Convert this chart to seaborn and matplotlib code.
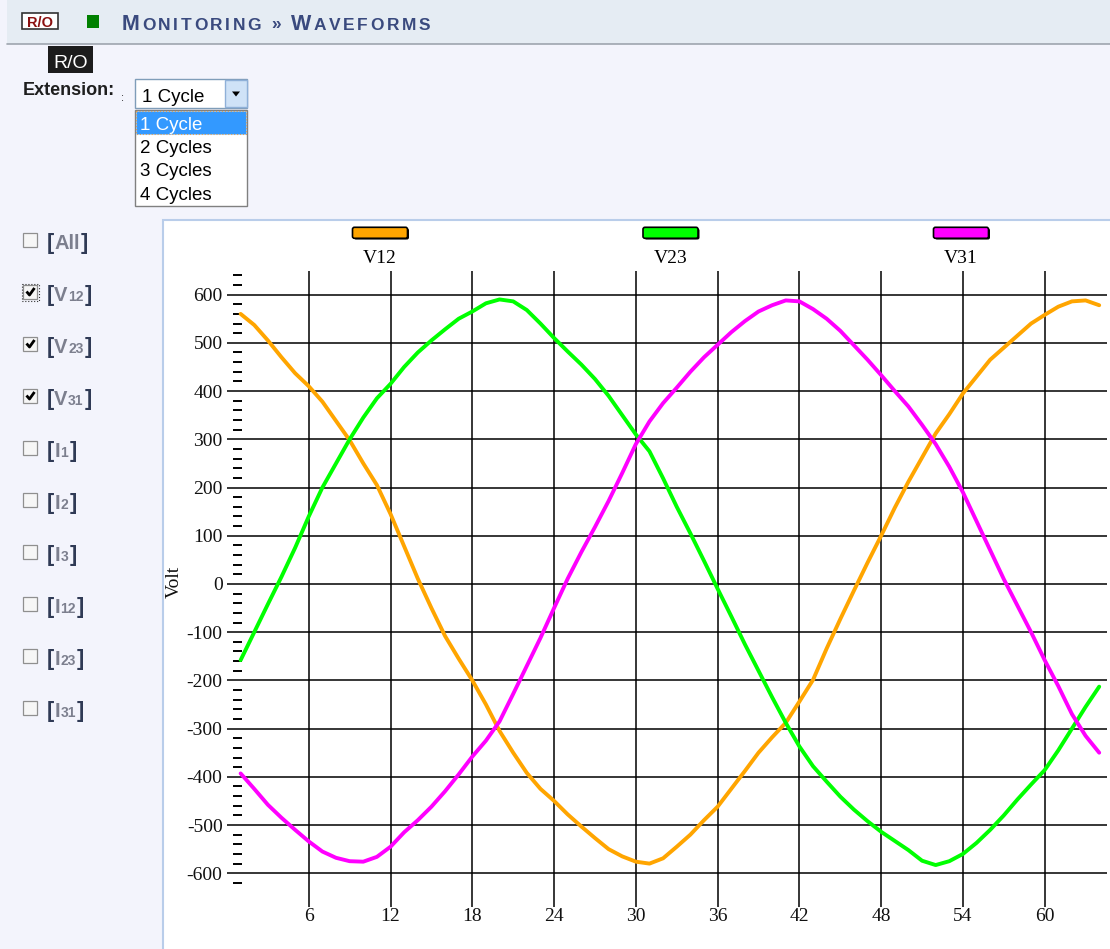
import numpy as np
import pandas as pd
import matplotlib
matplotlib.use("Agg")
import matplotlib.pyplot as plt
import seaborn as sns
from matplotlib import transforms as mtransforms
from matplotlib.patches import Rectangle, FancyBboxPatch, Polygon
from matplotlib.lines import Line2D
from matplotlib.ticker import FixedLocator

# ---------------- data ----------------
samples = list(range(1, 65))
v12 = [560, 537, 505, 470, 437, 410, 378, 338, 298, 250, 205, 145, 78, 11, -50, -108,
       -155, -200, -250, -305, -350, -392, -425, -450, -478, -503, -527, -550, -565, -576,
       -580, -569, -545, -520, -490, -462, -425, -388, -350, -318, -288, -244, -199, -134,
       -73, -14, 44, 100, 158, 212, 262, 312, 352, 395, 430, 465, 490, 515, 540, 558,
       575, 586, 588, 578]
v23 = [-158, -100, -42, 15, 75, 140, 200, 250, 300, 345, 385, 415, 450, 480, 505, 528,
       550, 565, 582, 590, 586, 568, 540, 510, 482, 455, 425, 390, 350, 310,
       275, 219, 160, 105, 48, -10, -67, -125, -180, -235, -288, -337, -378, -410,
       -441, -468, -492, -514, -533, -552, -574, -583, -575, -560, -537, -510, -480, -447,
       -416, -386, -345, -300, -255, -213]
v31 = [-393, -425, -458, -485, -510, -534, -555, -568, -575, -576, -566, -545, -515, -490,
       -462, -430, -395, -358, -325, -285, -228, -170, -112, -50, 11, 66, 118, 172, 230, 290,
       337, 375, 407, 440, 470, 496, 522, 545, 565, 578, 588, 586, 570, 550, 525, 495,
       465, 433, 400, 368, 330, 290, 243, 190, 130, 70, 10, -45, -100, -158, -212, -270,
       -315, -350]
series_names = ["V12", "V23", "V31"]
series_colors = ["#FFA500", "#00FF00", "#FF00FF"]
x_ticks = [6, 12, 18, 24, 30, 36, 42, 48, 54, 60]
y_ticks = list(range(-600, 601, 100))
y_minor = [v for v in range(-620, 641, 20) if v % 100 != 0]
y_label = "Volt"

check_names = [("All", ""), ("V", "12"), ("V", "23"), ("V", "31"), ("I", "1"),
               ("I", "2"), ("I", "3"), ("I", "12"), ("I", "23"), ("I", "31")]
check_state = [False, True, True, True, False, False, False, False, False, False]
dropdown_options = ["1 Cycle", "2 Cycles", "3 Cycles", "4 Cycles"]
selected_option = "1 Cycle"
title_parts = [("M", True), ("ONITORING", False), (" » ", False), ("W", True), ("AVEFORMS", False)]

# ---------------- figure ----------------
W, H = 1110, 949
sns.set_style("white")
plt.rcParams["axes.unicode_minus"] = False
fig = plt.figure(figsize=(W / 100, H / 100), dpi=100)
fig.patch.set_facecolor("#F3F4FC")
px = mtransforms.Affine2D().scale(1 / W, -1 / H).translate(0, 1) + fig.transFigure
renderer = fig.canvas.get_renderer()
SANS = "Liberation Sans"
SERIF = "Liberation Serif"


def rect(x, y, w, h, **kw):
    kw.setdefault("zorder", 2)
    p = Rectangle((x, y), w, h, transform=px, **kw)
    fig.add_artist(p)
    return p


def put(x, y, s, size, color="black", weight="normal", family=SANS, spacing=None, dy=0.0, zorder=5):
    chunks = list(s) if spacing is not None else [s]
    sp = spacing or 0.0
    for ch in chunks:
        if ch == " ":
            x += size * 0.278 * 100 / 72 + sp
            continue
        t = fig.text(x, y + dy, ch, transform=px, fontsize=size, color=color,
                     fontweight=weight, family=family, va="baseline", ha="left", zorder=zorder)
        bb = t.get_window_extent(renderer)
        x += bb.width + sp
    return x


# header
rect(7, 0, W, 44, facecolor="#E5ECF3", edgecolor="none", zorder=-2)
fig.add_artist(Line2D([7, W], [44.5, 44.5], transform=px, color="#9EA5AE", lw=1.2, zorder=-1))
rect(22, 12.5, 36, 17, facecolor="white", edgecolor="#333333", lw=1.2)
fig.text(40, 27, "R/O", transform=px, fontsize=10.5, color="#8B1010", fontweight="bold",
         family=SANS, ha="center", va="baseline", zorder=5)
rect(87, 15, 12, 13, facecolor="#008000", edgecolor="none")
xx = 121.5
for txt, big in title_parts:
    xx = put(xx, 29.5, txt, 15.5 if big else 12.5, color="#3A4A7E", weight="bold", spacing=2.6)

# R/O label + extension dropdown
rect(48, 46, 45, 27, facecolor="#1C1C1C", edgecolor="none")
fig.text(70.5, 68.5, "R/O", transform=px, fontsize=14, color="white", family=SANS,
         ha="center", va="baseline", zorder=5)
fig.text(23, 95, "Extension:", transform=px, fontsize=13, color="#1E1E1E", family=SANS,
         fontweight="bold", ha="left", va="baseline", zorder=5)
fig.text(121, 101, ":", transform=px, fontsize=8, color="#1E1E1E", family=SANS,
         ha="left", va="baseline", zorder=5)
rect(135, 79, 112, 29, facecolor="white", edgecolor="#7F9DB9", lw=1.0)
rect(225, 80, 22, 27, facecolor="#CFE2F7", edgecolor="#8FB0D8", lw=1.0, zorder=3)
fig.add_artist(Polygon([(232, 91.5), (240, 91.5), (236, 96.5)], closed=True, transform=px,
                       facecolor="black", edgecolor="none", zorder=4))
fig.text(142, 101.7, selected_option, transform=px, fontsize=13.5, color="black", family=SANS,
         ha="left", va="baseline", zorder=5)
rect(135, 110, 112, 96, facecolor="white", edgecolor="#808080", lw=1.0)
for i, opt in enumerate(dropdown_options):
    sel = opt == selected_option
    if sel:
        rect(136, 111 + 23.5 * i, 110, 23, facecolor="#3399FF", edgecolor="#E0A050",
             lw=0.8, ls=":", zorder=3)
    fig.text(140, 129.5 + 23.5 * i, opt, transform=px, fontsize=13.5,
             color="white" if sel else "black", family=SANS, ha="left", va="baseline", zorder=5)

# checkboxes
for i, ((name, sub), on) in enumerate(zip(check_names, check_state)):
    cy = 240 + 52 * i
    rect(23, cy - 7, 14, 14, facecolor="#F6F6F6", edgecolor="#8F8F8F", lw=0.9)
    if i == 1:
        rect(21.5, cy - 8.5, 17, 17, facecolor="none", edgecolor="#333333", lw=0.8, ls=":")
    if on:
        fig.add_artist(Line2D([26.5, 29.5, 34.5], [cy - 0.5, cy + 3, cy - 4], transform=px,
                              color="black", lw=2.0, zorder=4, solid_capstyle="butt"))
    xb = 46.5
    base = cy + 9
    xb = put(xb, base, "[", 15.5, color="#2F3A55", weight="bold") + 0.5
    xb = put(xb, base, name, 14.5, color="#7C7F8E", weight="bold") + 0.5
    if sub:
        xb = put(xb, base, sub, 10, color="#7C7F8E", weight="bold") + 0.5
    put(xb + 0.8, base, "]", 15.5, color="#2F3A55", weight="bold")

# chart panel
rect(163, 220, 1000, 760, facecolor="white", edgecolor="#B9CDEA", lw=1.5, zorder=-1)

# legend
for i, (name, col) in enumerate(zip(series_names, series_colors)):
    cx = 380 + 290.5 * i
    fig.add_artist(FancyBboxPatch((cx - 27.5 + 1.5, 228.5), 55, 11, transform=px,
                                  boxstyle="round,pad=0,rounding_size=2",
                                  facecolor="black", edgecolor="none", zorder=3))
    fig.add_artist(FancyBboxPatch((cx - 27.5, 227.3), 55, 11, transform=px,
                                  boxstyle="round,pad=0,rounding_size=2",
                                  facecolor=col, edgecolor="black", lw=1.2, zorder=4))
    fig.text(cx, 263, name, transform=px, fontsize=14, family=SERIF, color="black",
             ha="center", va="baseline", zorder=5)

# ---------------- chart ----------------
ax = fig.add_axes([227 / W, 1 - 907 / H, (1106.7 - 227) / W, (907 - 271) / H])
ax.set_facecolor("none")
df = pd.DataFrame({
    "sample": samples * 3,
    "volt": v12 + v23 + v31,
    "series": np.repeat(series_names, len(samples)),
})
sns.lineplot(data=df, x="sample", y="volt", hue="series",
             palette=dict(zip(series_names, series_colors)), linewidth=2.8,
             legend=False, ax=ax, zorder=3)
ax.set_xlim(0, 64.55)
ax.set_ylim(-670, 649)
ax.set_xticks(x_ticks)
ax.set_yticks(y_ticks)
ax.yaxis.set_minor_locator(FixedLocator(y_minor))
ax.grid(True, which="major", color="black", linewidth=1.1)
ax.set_axisbelow(True)
for s in ["top", "right", "bottom"]:
    ax.spines[s].set_visible(False)
ax.spines["left"].set_position(("data", 0.44))
ax.spines["left"].set_color("none")
ax.tick_params(axis="y", which="major", left=True, length=0, pad=7.5, labelsize=14,
               labelcolor="#111111")
ax.tick_params(axis="y", which="minor", left=True, direction="in", length=6.5, width=1.4,
               color="black")
ax.tick_params(axis="x", which="major", bottom=True, length=0, pad=0.5, labelsize=14,
               labelcolor="#111111")
for lab in ax.get_xticklabels() + ax.get_yticklabels():
    lab.set_family(SERIF)
ax.set_xlabel("")
ax.set_ylabel(y_label, fontsize=14, family=SERIF, color="#111111")
ax.yaxis.set_label_coords((174 - 227) / 879.7, 1 - (581.7 - 271) / 636)
ax.yaxis.label.set_verticalalignment("center")

fig.savefig("out.png", dpi=100, facecolor=fig.get_facecolor())
